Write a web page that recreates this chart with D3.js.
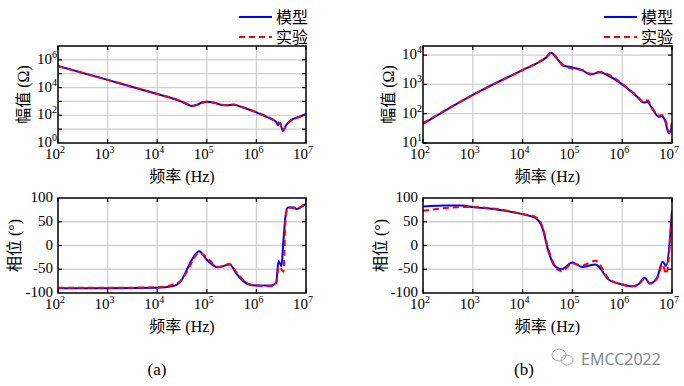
<!DOCTYPE html>
<html>
<head>
<meta charset="utf-8">
<script src="https://cdn.jsdelivr.net/npm/d3@7"></script>
<style>
  body { margin: 0; background: #fff; }
  text { font-family: "Liberation Serif", "Noto Sans CJK SC", serif; }
</style>
</head>
<body>
<div id="chart"></div>
<script>
// ---- data ----
// panel (a) magnitude, ohm
var freqAmag = [100, 1e3, 1e4, 2e4, 3e4, 4e4, 5e4, 6e4, 8e4, 1e5, 1.4e5, 2e5, 2.5e5, 3.5e5, 5e5, 1e6, 2e6, 2.5e6, 2.7e6, 3e6, 3.4e6, 4e6, 5e6, 7e6, 1e7];
var modelAmag = [3.6e5, 3.6e4, 3.4e3, 1.7e3, 1.0e3, 630, 470, 530, 830, 950, 800, 560, 525, 575, 400, 162, 52, 33, 20, 29, 7.6, 20, 45, 72, 120];
var testAmag  = [3.5e5, 3.6e4, 3.5e3, 1.75e3, 1.05e3, 660, 490, 520, 800, 960, 820, 580, 540, 590, 420, 165, 58, 38, 32, 26, 7.2, 19, 43, 74, 125];

// panel (a) phase, degree
var freqAph = [100, 1e3, 1e4, 2e4, 3e4, 4e4, 5e4, 7e4, 1e5, 1.7e5, 2.9e5, 4e5, 7e5, 1e6, 2e6, 2.5e6, 2.8e6, 3.2e6, 3.5e6, 3.9e6, 4.3e6, 5.9e6, 6.3e6, 1e7];
var modelAph = [-90, -90, -89, -86, -75, -50, -30, -12, -30, -46, -40, -60, -82, -84, -84, -78, -32, -44, 10, 65, 80, 80, 77, 88];
var testAph  = [-89, -89, -88, -83, -74, -55, -35, -15, -25, -45, -39, -57, -81, -84, -86, -80, -45, -50, -55, 60, 80, 79, 78, 90];

// panel (b) magnitude, ohm
var freqBmag = [100, 1e3, 1e4, 2e4, 3e4, 3.8e4, 4.5e4, 6.6e4, 1e5, 1.6e5, 2.3e5, 3.6e5, 5e5, 1e6, 2e6, 2.7e6, 3.2e6, 4e6, 5.4e6, 6.2e6, 7.2e6, 8.7e6, 1e7];
var modelBmag = [45, 440, 3.1e3, 5.4e3, 8.4e3, 1.2e4, 9.0e3, 4.5e3, 3.8e3, 3.0e3, 2.2e3, 2.6e3, 2.1e3, 1.0e3, 380, 240, 250, 150, 78, 83, 60, 21, 40];
var testBmag  = [48, 440, 3.1e3, 5.5e3, 8.6e3, 1.25e4, 9.5e3, 4.3e3, 3.5e3, 3.1e3, 2.3e3, 2.7e3, 2.3e3, 1.05e3, 400, 250, 290, 160, 85, 90, 70, 23, 50];

// panel (b) phase, degree
var freqBph = [100, 300, 600, 1e3, 3e3, 1e4, 1.8e4, 2.5e4, 3.3e4, 4.2e4, 6e4, 1e5, 1.55e5, 2.9e5, 5.4e5, 1e6, 1.6e6, 2.1e6, 2.8e6, 3.6e6, 5e6, 6.5e6, 7.6e6, 1e7];
var modelBph = [82, 84, 84, 81, 76, 66, 58, 37, -12, -40, -50, -36, -45, -40, -72, -82, -86, -82, -68, -80, -68, -34, -43, 72];
var testBph  = [73, 79, 81, 81, 77, 66, 60, 40, -8, -38, -54, -38, -42, -32, -70, -82, -86, -83, -70, -80, -70, -40, -60, 72];

var xTicks = [1e2, 1e3, 1e4, 1e5, 1e6, 1e7];
var phaseTicks = [-100, -50, 0, 50, 100];

var W = 684, H = 386;
var svg = d3.select("#chart").append("svg")
    .attr("width", W)
    .attr("height", H);

function supLabel(sel, exp) {
    sel.text("10");
    sel.append("tspan")
        .attr("dy", -6)
        .attr("font-size", 10)
        .text(exp);
}

function panel(opt) {
    var x = d3.scaleLog().domain([1e2, 1e7]).range([opt.x0, opt.x1]);
    var y = opt.log ? d3.scaleLog().domain(opt.ydom).range([opt.y1, opt.y0])
                    : d3.scaleLinear().domain(opt.ydom).range([opt.y1, opt.y0]);
    var g = svg.append("g");

    // grid
    g.selectAll(".gx").data(xTicks.slice(1, -1)).enter().append("line")
        .attr("x1", d => x(d)).attr("x2", d => x(d))
        .attr("y1", opt.y0).attr("y2", opt.y1)
        .attr("stroke", "#d0d0d0").attr("stroke-width", 1.3);
    g.selectAll(".gy").data(opt.grid).enter().append("line")
        .attr("x1", opt.x0).attr("x2", opt.x1)
        .attr("y1", d => y(d)).attr("y2", d => y(d))
        .attr("stroke", "#d0d0d0").attr("stroke-width", 1.3);

    // inward ticks on all sides
    xTicks.forEach(function(t) {
        g.append("line").attr("x1", x(t)).attr("x2", x(t)).attr("y1", opt.y1).attr("y2", opt.y1 - 4)
            .attr("stroke", "#000").attr("stroke-width", 1.2);
        g.append("line").attr("x1", x(t)).attr("x2", x(t)).attr("y1", opt.y0).attr("y2", opt.y0 + 4)
            .attr("stroke", "#000").attr("stroke-width", 1.2);
    });
    opt.grid.forEach(function(t) {
        g.append("line").attr("x1", opt.x0).attr("x2", opt.x0 + 4).attr("y1", y(t)).attr("y2", y(t))
            .attr("stroke", "#000").attr("stroke-width", 1.2);
        g.append("line").attr("x1", opt.x1).attr("x2", opt.x1 - 4).attr("y1", y(t)).attr("y2", y(t))
            .attr("stroke", "#000").attr("stroke-width", 1.2);
    });

    var line = d3.line()
        .x(d => x(d[0]))
        .y(d => y(d[1]))
        .curve(d3.curveMonotoneX);

    var clipId = "clip" + opt.name;
    svg.append("clipPath").attr("id", clipId).append("rect")
        .attr("x", opt.x0).attr("y", opt.y0 - 1)
        .attr("width", opt.x1 - opt.x0).attr("height", opt.y1 - opt.y0 + 2);

    g.append("path")
        .attr("d", line(d3.zip(opt.f, opt.model)))
        .attr("fill", "none").attr("stroke", "#0000ff").attr("stroke-width", 2)
        .attr("clip-path", "url(#" + clipId + ")");
    g.append("path")
        .attr("d", line(d3.zip(opt.f, opt.test)))
        .attr("fill", "none").attr("stroke", "#ff0000").attr("stroke-width", 2)
        .attr("stroke-dasharray", "6,4")
        .attr("clip-path", "url(#" + clipId + ")");

    // frame
    g.append("rect")
        .attr("x", opt.x0).attr("y", opt.y0)
        .attr("width", opt.x1 - opt.x0).attr("height", opt.y1 - opt.y0)
        .attr("fill", "none").attr("stroke", "#000").attr("stroke-width", 1.5);

    // x tick labels
    xTicks.forEach(function(t) {
        var tx = g.append("text")
            .attr("x", x(t) - 3).attr("y", opt.y1 + 16)
            .attr("text-anchor", "middle")
            .attr("font-size", 15);
        supLabel(tx, Math.round(Math.log10(t)));
    });

    // y tick labels
    opt.labels.forEach(function(t) {
        var ty = g.append("text")
            .attr("font-size", 15);
        if (opt.log) {
            supLabel(ty, Math.round(Math.log10(t)));
            ty.attr("text-anchor", "start").attr("x", opt.x0 - 21).attr("y", y(t) + 4);
        } else {
            ty.attr("text-anchor", "end").attr("x", opt.x0 - 5).attr("y", y(t) + 4).text(t);
        }
    });

    // axis titles
    g.append("text")
        .attr("x", (opt.x0 + opt.x1) / 2).attr("y", opt.y1 + 39)
        .attr("text-anchor", "middle").attr("font-size", 16)
        .text("频率 (Hz)");
    g.append("text")
        .attr("transform", "translate(" + opt.ytx + "," + ((opt.y0 + opt.y1) / 2) + ") rotate(-90)")
        .attr("text-anchor", "middle").attr("font-size", 16)
        .text(opt.ytitle);
}

panel({ name: "am", x0: 58, x1: 306, y0: 46, y1: 143, log: true, ydom: [1, 1e7],
        grid: [1e1, 1e2, 1e3, 1e4, 1e5, 1e6], labels: [1, 1e2, 1e4, 1e6],
        f: freqAmag, model: modelAmag, test: testAmag, ytitle: "幅值 (Ω)", ytx: 29 });
panel({ name: "bm", x0: 423, x1: 672, y0: 46, y1: 143, log: true, ydom: [10, 2.05e4],
        grid: [1e1, 1e2, 1e3, 1e4], labels: [1e1, 1e2, 1e3, 1e4],
        f: freqBmag, model: modelBmag, test: testBmag, ytitle: "幅值 (Ω)", ytx: 394 });
panel({ name: "ap", x0: 58, x1: 306, y0: 198, y1: 293, log: false, ydom: [-100, 100],
        grid: [-50, 0, 50], labels: phaseTicks,
        f: freqAph, model: modelAph, test: testAph, ytitle: "相位 (°)", ytx: 20 });
panel({ name: "bp", x0: 423, x1: 672, y0: 198, y1: 293, log: false, ydom: [-100, 100],
        grid: [-50, 0, 50], labels: phaseTicks,
        f: freqBph, model: modelBph, test: testBph, ytitle: "相位 (°)", ytx: 386 });

// legends
function legend(x0) {
    var items = [["模型", "#0000ff", null], ["实验", "#ff0000", "6,4"]];
    items.forEach(function(it, i) {
        var yy = 17 + i * 20;
        svg.append("line")
            .attr("x1", x0).attr("x2", x0 + 33).attr("y1", yy).attr("y2", yy)
            .attr("stroke", it[1]).attr("stroke-width", 2)
            .attr("stroke-dasharray", it[2]);
        svg.append("text")
            .attr("x", x0 + 37).attr("y", yy + 6)
            .attr("font-size", 16)
            .text(it[0]);
    });
}
legend(239);
legend(604);

// sub-figure captions
svg.append("text").attr("x", 157).attr("y", 375).attr("text-anchor", "middle")
    .attr("font-size", 17).text("(a)");
svg.append("text").attr("x", 524).attr("y", 375).attr("text-anchor", "middle")
    .attr("font-size", 17).text("(b)");

// watermark
var wm = svg.append("g").attr("stroke", "#aaa").attr("fill", "none").attr("stroke-width", 1);
wm.append("ellipse").attr("cx", 559).attr("cy", 355).attr("rx", 7).attr("ry", 6);
wm.append("ellipse").attr("cx", 567).attr("cy", 360).attr("rx", 6).attr("ry", 5);
svg.append("text").attr("x", 581).attr("y", 365)
    .attr("font-size", 16).attr("fill", "#888")
    .style("font-family", "'Noto Sans', sans-serif")
    .text("EMCC2022");
</script>
</body>
</html>
